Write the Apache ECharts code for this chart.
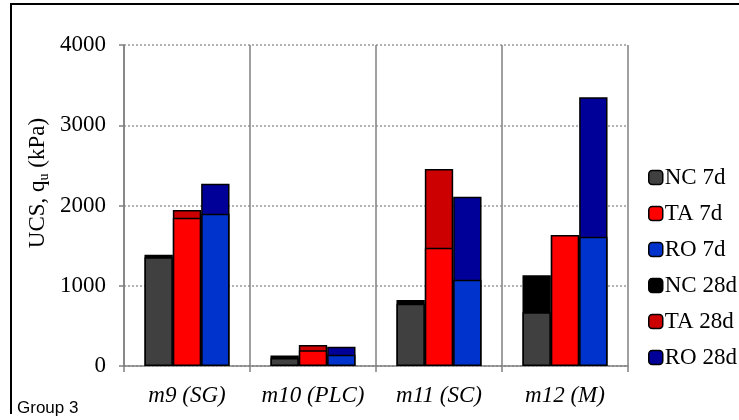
<!DOCTYPE html>
<html>
<head>
<meta charset="utf-8">
<script src="https://cdn.jsdelivr.net/npm/echarts@6/dist/echarts.min.js"></script>
<style>html,body{margin:0;padding:0;background:#fff;}#c{width:739px;height:420px;}</style>
</head>
<body>
<div id="c"></div>
<script>
var categories = ['m9 (SG)', 'm10 (PLC)', 'm11 (SC)', 'm12 (M)'];
var nc7 = [1355, 100, 777, 670];
var ta7 = [1848, 195, 1475, 1632];
var ro7 = [1898, 141, 1076, 1611];
var nc28 = [1387, 130, 822, 1130];
var ta28 = [1944, 262, 2455, 1630];
var ro28 = [2272, 240, 2110, 3348];
var yTicks = [0, 1000, 2000, 3000, 4000];

var serif = 'Liberation Serif';
var chart = echarts.init(document.getElementById('c'));
function bar(name, data, color, axis, z) {
  return {
    name: name, type: 'bar', data: data, xAxisIndex: axis, yAxisIndex: 0,
    barGap: '0%', barCategoryGap: '32.5%', z: z,
    itemStyle: { color: color, borderColor: '#000', borderWidth: 1.5 },
    emphasis: { disabled: true }, animation: false
  };
}
var xCommon = {
  type: 'category', data: categories, boundaryGap: true
};
chart.setOption({
  animation: false,
  grid: { left: 124, right: 111, top: 45, bottom: 54 },
  legend: {
    orient: 'vertical', left: 648, top: 166, padding: 0,
    data: ['NC 7d', 'TA 7d', 'RO 7d', 'NC 28d', 'TA 28d', 'RO 28d'],
    itemWidth: 14, itemHeight: 14, itemGap: 13,
    textStyle: { fontFamily: serif, fontSize: 23, color: '#000', lineHeight: 22, padding: [0, 0, 0, -3] },
    itemStyle: { borderColor: '#000', borderWidth: 1.5 },
    selectedMode: false
  },
  xAxis: [
    Object.assign({}, xCommon, {
      position: 'bottom',
      axisLine: { show: true, lineStyle: { color: '#808080', width: 1.5 } },
      axisTick: { show: true, interval: 0, length: 6, lineStyle: { color: '#808080', width: 1.5 } },
      splitLine: { show: true, interval: 0, lineStyle: { color: '#808080', width: 1.5 } },
      axisLabel: { interval: 0, margin: 18, fontFamily: serif, fontStyle: 'italic', fontSize: 23, color: '#000' }
    }),
    Object.assign({}, xCommon, { show: false })
  ],
  yAxis: {
    type: 'value', min: 0, max: 4000, interval: 1000,
    axisLine: { show: true, lineStyle: { color: '#808080', width: 1.5 } },
    axisTick: { show: true, length: 5, lineStyle: { color: '#808080', width: 1.5 } },
    splitLine: { show: true, lineStyle: { color: '#999', width: 1.5, type: [2, 2] } },
    axisLabel: { margin: 18, fontFamily: serif, fontSize: 23, color: '#000',
      formatter: function (v) { return yTicks.indexOf(v) >= 0 ? String(v) : ''; } }
  },
  graphic: [
    { type: 'line', shape: { x1: 10, y1: 4, x2: 739, y2: 4 }, style: { stroke: '#000', lineWidth: 2 } },
    { type: 'line', shape: { x1: 11, y1: 4, x2: 11, y2: 414 }, style: { stroke: '#000', lineWidth: 2 } },
    { type: 'text', left: 17, top: 400, style: { text: 'Group 3', fontFamily: 'Liberation Sans', fontSize: 17, fill: '#000' } },
    { type: 'text', x: 38, y: 183, rotation: Math.PI / 2,
      style: { text: '{a|UCS, q}{s|u}{a| (kPa)}', align: 'center', verticalAlign: 'middle',
        rich: { a: { fontFamily: serif, fontSize: 23, fill: '#000', lineHeight: 26 },
                s: { fontFamily: serif, fontSize: 14, fill: '#000', lineHeight: 26, verticalAlign: 'bottom', padding: [8, 0, 0, 0] } } } }
  ],
  series: [
    bar('NC 28d', nc28, '#000000', 1, 2),
    bar('TA 28d', ta28, '#CC0000', 1, 2),
    bar('RO 28d', ro28, '#000099', 1, 2),
    bar('NC 7d', nc7, '#404040', 0, 3),
    bar('TA 7d', ta7, '#FF0000', 0, 3),
    bar('RO 7d', ro7, '#0033CC', 0, 3)
  ]
});
</script>
</body>
</html>
